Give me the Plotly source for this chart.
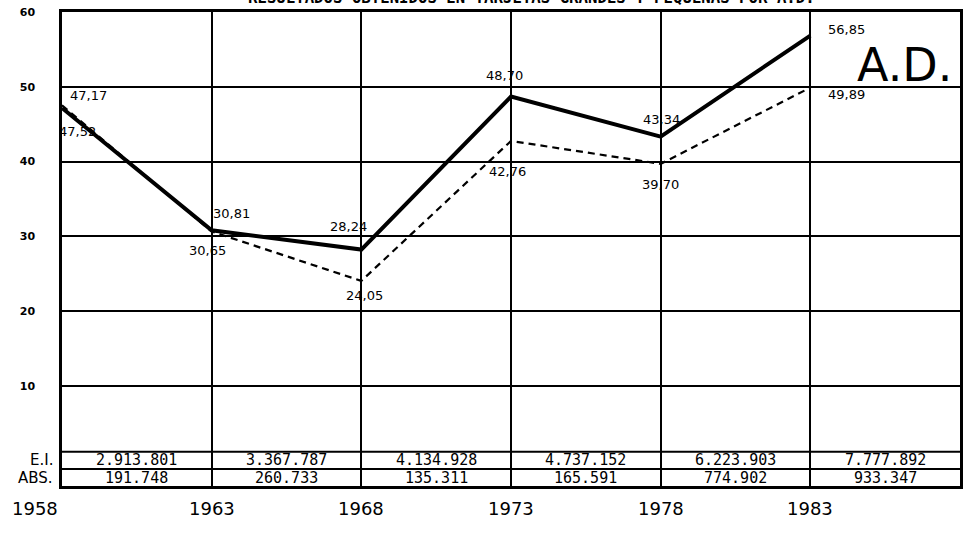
import plotly.graph_objects as go

# ---- data ----
years = [1958, 1963, 1968, 1973, 1978, 1983]
solid_vals = [47.17, 30.81, 28.24, 48.70, 43.34, 56.85]
dashed_vals = [47.52, 30.65, 24.05, 42.76, 39.70, 49.89]
solid_labels = ["47,17", "30,81", "28,24", "48,70", "43,34", "56,85"]
dashed_labels = ["47,52", "30,65", "24,05", "42,76", "39,70", "49,89"]
ei_vals = ["2.913.801", "3.367.787", "4.134.928", "4.737.152", "6.223.903", "7.777.892"]
abs_vals = ["191.748", "260.733", "135.311", "165.591", "774.902", "933.347"]
y_ticks = [10, 20, 30, 40, 50, 60]
y_tick_text = ["10", "20", "30", "40", "50", "60"]
title_text = "RESULTADOS OBTENIDOS EN TARJETAS GRANDES Y PEQUEÑAS POR A.D."

# ---- styling / layout constants ----
W, H = 965, 536
ML, MR, MT, MB = 62, 5, 12, 50
X_RANGE = [1958, 1988]
Y_RANGE = [-3.37, 60]
TABLE_TOP = 1.2
TABLE_MID = -1.1
STEP = 5
HAND = "DejaVu Sans"
MONO = "DejaVu Sans Mono"

# label offsets in pixels (styling)
solid_off = [(26, -12), (20, -17), (-13, -23), (-7, -21), (1, -17), (36, -6)]
dashed_off = [(15, 26), (-4, 19), (3, 15), (-4, 31), (0, 21), (36, 7)]

fig = go.Figure()
fig.add_trace(go.Scatter(
    x=years, y=dashed_vals, mode="lines",
    line=dict(color="black", width=2.2, dash="7px,5px"),
    showlegend=False, hoverinfo="skip"))
fig.add_trace(go.Scatter(
    x=years, y=solid_vals, mode="lines",
    line=dict(color="black", width=4),
    showlegend=False, hoverinfo="skip"))

annotations = []
# value labels
for vals, labels, offs in [(solid_vals, solid_labels, solid_off), (dashed_vals, dashed_labels, dashed_off)]:
    for yr, v, lbl, (dx, dy) in zip(years, vals, labels, offs):
        annotations.append(dict(x=yr, y=v, xref="x", yref="y", text=lbl, showarrow=False,
                                xanchor="center", yanchor="middle", xshift=dx, yshift=-dy,
                                font=dict(family=HAND, size=13, color="black")))
# table cells
for yr, ei, ab in zip(years, ei_vals, abs_vals):
    annotations.append(dict(x=yr + STEP / 2, y=(TABLE_TOP + TABLE_MID) / 2, xref="x", yref="y",
                            text=ei, showarrow=False, yanchor="middle", borderpad=0,
                            font=dict(family=MONO, size=15, color="black")))
    annotations.append(dict(x=yr + STEP / 2, y=(TABLE_MID + Y_RANGE[0]) / 2, xref="x", yref="y",
                            text=ab, showarrow=False, yanchor="middle", borderpad=0,
                            font=dict(family=MONO, size=15, color="black")))
# row labels
for lbl, yv in [("E.I.", (TABLE_TOP + TABLE_MID) / 2), ("ABS.", (TABLE_MID + Y_RANGE[0]) / 2)]:
    annotations.append(dict(x=0, y=yv, xref="paper", yref="y", text=lbl, showarrow=False,
                            xanchor="right", xshift=-8, yanchor="middle", borderpad=0,
                            font=dict(family=HAND, size=15, color="black")))
# year labels
for i, yr in enumerate(years):
    annotations.append(dict(x=yr, y=0, xref="x", yref="paper", text=str(yr), showarrow=False,
                            xanchor="right" if i == 0 else "center",
                            yanchor="top", yshift=-10, xshift=-2 if i == 0 else 0,
                            font=dict(family=HAND, size=18, color="black")))
# A.D.
annotations.append(dict(x=1, y=0.888, xref="paper", yref="paper", text="A.D.", showarrow=False,
                        xanchor="right", xshift=-6, yanchor="middle",
                        font=dict(family="DejaVu Sans", size=46, color="black")))
# title (cut off at the top)
annotations.append(dict(x=0.5, y=1, xref="paper", yref="paper", text="<b>" + title_text + "</b>",
                        showarrow=False, xanchor="center", yanchor="bottom", yshift=3,
                        xshift=20,
                        font=dict(family="DejaVu Sans Mono", size=15.7, color="black")))

shapes = []
for yv in [TABLE_TOP, TABLE_MID]:
    shapes.append(dict(type="line", xref="paper", x0=0, x1=1, yref="y", y0=yv, y1=yv,
                       line=dict(color="black", width=2)))

fig.update_layout(
    width=W, height=H,
    margin=dict(l=ML, r=MR, t=MT, b=MB, autoexpand=False),
    paper_bgcolor="white", plot_bgcolor="white",
    annotations=annotations, shapes=shapes,
    xaxis=dict(range=X_RANGE, tick0=years[0], dtick=STEP, showgrid=True, automargin=False,
               gridcolor="black", gridwidth=1.5, showticklabels=False, ticks="",
               showline=True, linecolor="black", linewidth=2.5, mirror=True, zeroline=False),
    yaxis=dict(range=Y_RANGE, tickvals=y_ticks, ticktext=y_tick_text, showgrid=True,
               automargin=False,
               gridcolor="black", gridwidth=1.5, ticks="", ticklabelstandoff=22,
               tickfont=dict(family="DejaVu Sans", size=11, color="black", weight="bold"),
               showline=True, linecolor="black", linewidth=2.5, mirror=True, zeroline=False),
)

fig.write_html("out.html", config={"displayModeBar": False},
               post_script="document.body.style.margin='0';")
